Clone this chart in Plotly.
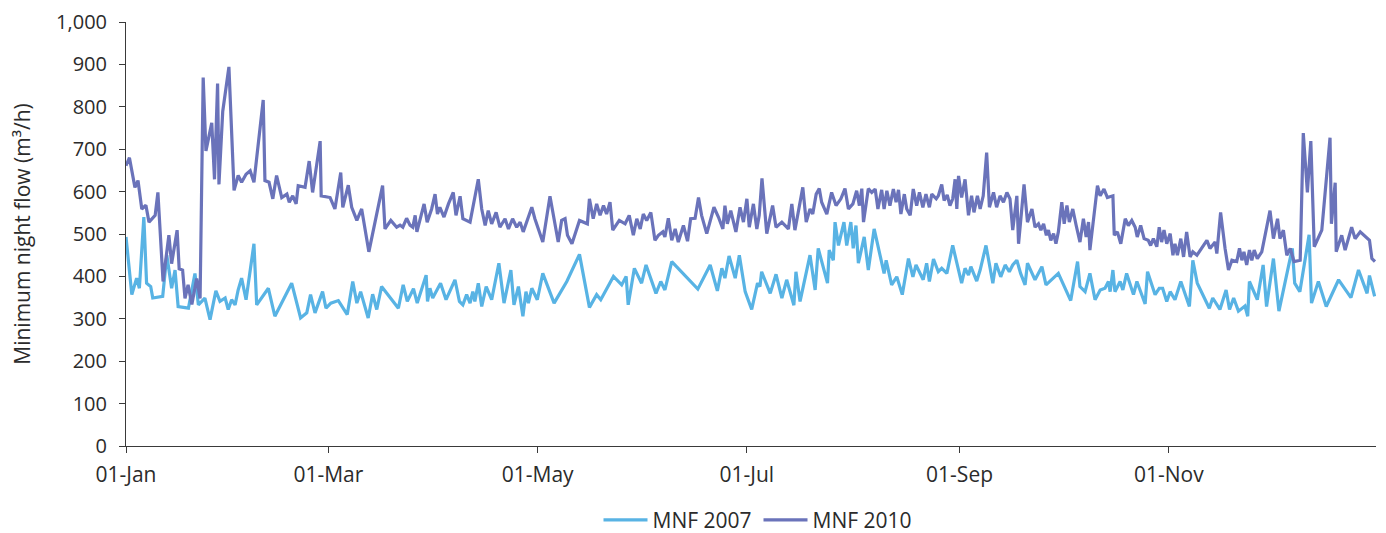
import pandas as pd
import plotly.graph_objects as go

# Day-of-year offsets (from 01-Jan) and minimum night flow values (m3/h)
days_2010 = [0.0, 1.0, 2.6, 3.5, 4.6, 5.8, 6.7, 8.5, 9.3, 10.8, 12.5, 13.3, 14.9, 15.5, 16.5, 17.2, 18.1, 19.2,
             20.6, 21.6, 22.5, 23.3, 25.0, 25.8, 26.7, 27.1, 28.2, 30.0, 31.5, 32.7, 33.7, 35.0, 36.2, 37.3,
             40.0, 40.5, 41.7, 42.8, 43.9, 45.4, 46.9, 47.6, 48.6, 49.6, 50.2, 52.2, 53.4, 54.4, 56.6, 56.9,
             59.5, 60.9, 62.6, 63.2, 64.8, 65.8, 67.3, 68.7, 70.8, 74.8, 75.5, 77.2, 78.9, 79.9, 80.7, 81.8,
             82.8, 83.6, 84.3, 84.8, 86.9, 87.8, 89.1, 90.1, 90.8, 91.5, 92.7, 94.0, 95.4, 96.2, 97.4, 98.2,
             100.3, 102.7, 103.7, 104.7, 105.6, 106.6, 107.9, 109.0, 110.5, 111.5, 112.7, 113.9, 114.9, 115.8,
             118.3, 119.2, 121.5, 123.6, 126.0, 127.0, 128.0, 128.7, 130.0, 132.2, 134.5, 135.1, 136.2, 137.2,
             138.2, 139.2, 140.1, 141.1, 141.9, 143.8, 145.5, 146.7, 147.9, 148.9, 149.9, 150.8, 151.8, 153.0,
             154.2, 155.2, 156.5, 157.1, 158.1, 159.1, 160.1, 161.0, 162.5, 163.7, 164.6, 165.9, 166.9, 167.8,
             169.3, 171.4, 172.7, 174.0, 174.6, 175.3, 176.3, 177.8, 179.0, 180.0, 181.0, 181.7, 182.9, 183.9,
             184.6, 185.4, 186.8, 188.5, 189.5, 191.2, 193.1, 194.1, 195.0, 196.0, 197.3, 198.3, 199.4, 200.2,
             201.2, 202.1, 202.8, 204.3, 205.7, 207.0, 208.4, 209.6, 210.6, 211.9, 213.0, 213.8, 214.5, 215.0,
             216.4, 217.4, 218.4, 219.2, 220.3, 221.0, 221.8, 222.7, 223.7, 224.5, 225.2, 225.9, 226.9, 227.6,
             228.6, 229.5, 230.5, 231.3, 232.3, 233.2, 234.2, 234.9, 236.2, 236.8, 237.8, 238.5, 239.4, 240.2,
             241.0, 241.7, 242.2, 242.7, 243.6, 244.6, 245.6, 246.5, 247.2, 248.2, 249.0, 249.9, 250.9, 251.7,
             252.9, 253.8, 254.8, 255.8, 256.8, 257.7, 258.5, 259.7, 260.2, 261.8, 262.8, 264.1, 265.0, 266.0,
             266.7, 267.5, 268.3, 268.9, 269.6, 270.4, 271.1, 271.8, 272.8, 273.5, 274.3, 275.0, 276.0, 277.0,
             278.1, 279.1, 279.9, 280.6, 281.0, 283.2, 284.0, 285.1, 286.1, 287.7, 288.1, 289.0, 290.0, 291.3,
             292.2, 293.2, 294.2, 294.8, 295.8, 296.8, 298.0, 298.7, 299.5, 300.5, 301.2, 301.9, 302.6, 303.4,
             304.4, 305.2, 305.8, 306.5, 307.5, 308.3, 309.2, 310.2, 311.0, 312.2, 313.6, 315.1, 316.0, 317.5,
             318.0, 319.1, 320.4, 321.4, 322.4, 323.8, 324.6, 325.3, 325.9, 326.7, 327.5, 328.2, 328.9, 329.8,
             331.1, 333.5, 334.5, 335.7, 336.4, 337.4, 338.4, 339.4, 340.5, 342.3, 343.2, 344.4, 345.4, 346.4,
             348.6, 351.0, 351.4, 352.5, 352.8, 354.4, 355.4, 357.3, 358.3, 359.8, 362.5, 363.2, 364.1]
mnf_2010 = [661, 680, 610, 626, 559, 568, 528, 544, 598, 388, 497, 430, 509, 418, 415, 348, 380, 334,
            395, 348, 869, 696, 762, 629, 855, 617, 789, 894, 603, 638, 622, 641, 649, 622,
            816, 626, 622, 583, 638, 586, 594, 575, 590, 571, 614, 610, 672, 598, 719, 590,
            586, 559, 645, 563, 615, 563, 532, 559, 458, 614, 512, 532, 516, 521, 516, 537,
            521, 516, 544, 505, 571, 528, 559, 594, 547, 563, 540, 571, 598, 544, 589, 536,
            528, 629, 559, 520, 555, 524, 551, 516, 536, 512, 536, 516, 528, 505,
            563, 536, 481, 589, 481, 532, 536, 497, 477, 532, 524, 583, 536, 571,
            544, 567, 547, 575, 509, 532, 524, 544, 497, 536, 512, 547, 532, 551,
            485, 497, 505, 493, 537, 485, 512, 481, 520, 483, 536, 537, 586, 544,
            501, 563, 540, 512, 567, 524, 555, 505, 563, 528, 583, 516, 571, 512,
            544, 631, 501, 567, 516, 528, 512, 571, 509, 555, 610, 528, 559, 547,
            594, 607, 575, 547, 598, 567, 583, 607, 559, 571, 602, 567, 607, 528,
            607, 598, 606, 559, 604, 559, 602, 567, 606, 575, 604, 547, 594, 559,
            544, 606, 567, 598, 563, 594, 563, 594, 583, 590, 617, 579, 592, 567,
            583, 629, 559, 637, 586, 629, 544, 590, 551, 590, 559, 590, 692, 563,
            598, 563, 590, 575, 598, 583, 509, 590, 477, 617, 528, 559, 516, 524,
            509, 524, 497, 509, 485, 501, 477, 505, 575, 524, 567, 528, 559, 520,
            481, 536, 493, 528, 462, 614, 590, 606, 586, 590, 497, 505, 477, 536,
            520, 532, 516, 493, 520, 489, 485, 473, 489, 470, 516, 481, 509, 477,
            501, 450, 477, 450, 489, 446, 505, 446, 458, 450, 466, 485, 466, 481,
            454, 551, 466, 415, 438, 435, 466, 438, 458, 427, 462, 438, 462, 442,
            458, 555, 489, 536, 489, 509, 450, 466, 435, 438, 738, 598, 719, 470,
            509, 727, 524, 621, 458, 497, 462, 516, 489, 505, 485, 442, 435]

days_2007 = [0.0, 1.7, 3.1, 3.9, 5.2, 6.0, 7.2, 7.8, 10.7, 11.9, 13.3, 14.3, 15.2, 18.2, 20.1, 21.1, 23.0,
             24.5, 26.2, 27.4, 28.9, 29.8, 30.8, 31.8, 32.7, 33.7, 35.0, 37.3, 38.1, 41.5, 43.4, 48.3, 50.9,
             52.7, 53.8, 55.1, 57.3, 58.3, 59.7, 61.9, 64.5, 66.1, 67.3, 68.4, 70.6, 71.9, 73.1, 74.5, 79.4,
             80.8, 82.0, 83.8, 84.9, 87.5, 87.9, 88.6, 89.4, 91.7, 93.3, 95.9, 97.2, 98.2, 99.3, 100.3, 101.1,
             101.7, 102.7, 103.7, 105.0, 106.6, 108.7, 110.2, 112.2, 113.1, 114.4, 115.7, 116.6, 117.3, 118.3,
             119.9, 121.5, 124.8, 128.5, 132.2, 135.1, 137.2, 138.4, 142.1, 144.5, 145.8, 146.4, 148.2, 150.3,
             151.6, 154.5, 155.9, 157.1, 159.1, 166.7, 170.3, 172.4, 173.7, 174.6, 175.8, 177.6, 178.8, 180.5,
             182.4, 184.1, 184.8, 185.3, 187.8, 189.5, 191.2, 192.6, 194.7, 195.3, 196.5, 199.4, 200.9, 201.8,
             204.5, 205.0, 206.2, 206.7, 207.7, 209.3, 210.1, 211.3, 212.0, 212.8, 213.5, 215.2, 216.4, 218.1,
             221.0, 221.6, 223.2, 224.7, 226.3, 228.1, 229.4, 230.3, 232.4, 233.4, 234.2, 235.4, 236.8, 237.8,
             239.3, 241.0, 243.6, 244.6, 245.6, 246.3, 248.0, 249.0, 250.7, 252.7, 253.6, 255.0, 256.3, 257.5,
             258.5, 259.7, 260.8, 262.1, 262.8, 265.0, 267.0, 268.2, 271.8, 275.4, 277.4, 278.1, 279.6, 281.0,
             282.5, 284.0, 285.4, 286.4, 286.9, 287.7, 288.3, 289.8, 290.6, 291.7, 293.7, 294.7, 297.1, 297.8,
             300.0, 301.2, 302.2, 303.4, 304.4, 305.8, 307.5, 310.0, 311.0, 312.3, 315.8, 316.8, 318.9, 320.7,
             321.7, 322.9, 324.3, 326.2, 327.0, 327.5, 329.8, 331.5, 332.5, 334.5, 336.1, 340.0, 340.7, 342.2,
             344.9, 345.6, 347.6, 349.9, 353.5, 357.1, 359.3, 361.8, 362.5, 364.0]
mnf_2007 = [493, 357, 396, 372, 540, 384, 376, 349, 353, 450, 372, 415, 329, 325, 407, 333, 349,
            298, 366, 341, 349, 322, 345, 333, 368, 396, 345, 477, 333, 372, 306, 384, 302,
            314, 357, 314, 364, 325, 337, 343, 310, 388, 337, 364, 302, 358, 322, 376, 325,
            380, 341, 371, 337, 403, 341, 372, 349, 384, 345, 392, 341, 333, 357, 337, 364,
            341, 384, 329, 376, 345, 431, 337, 415, 333, 376, 306, 364, 337, 372,
            345, 407, 337, 388, 452, 327, 357, 345, 400, 380, 400, 333, 419, 384,
            427, 360, 388, 368, 435, 370, 427, 366, 419, 396, 448, 396, 450, 364,
            322, 384, 376, 411, 360, 405, 349, 392, 332, 411, 341, 450, 368, 466,
            384, 462, 438, 528, 473, 528, 473, 528, 466, 520, 431, 493, 415, 512,
            407, 438, 380, 399, 357, 442, 399, 427, 392, 431, 388, 441, 411, 419,
            407, 473, 384, 419, 403, 423, 389, 415, 473, 384, 431, 399, 427, 411,
            427, 438, 407, 380, 431, 392, 423, 380, 407, 343, 435, 376, 364, 407,
            345, 368, 372, 388, 364, 415, 364, 388, 368, 407, 357, 388, 335, 411,
            357, 372, 372, 341, 364, 345, 388, 329, 438, 384, 325, 349, 322, 368,
            322, 349, 318, 330, 306, 388, 345, 427, 329, 442, 318, 466, 384, 364,
            498, 337, 388, 329, 392, 350, 415, 360, 402, 353]

start = pd.Timestamp("2010-01-01")
x2007 = [start + pd.Timedelta(days=d) for d in days_2007]
x2010 = [start + pd.Timedelta(days=d) for d in days_2010]

C2007 = "#58b3e4"
C2010 = "#6a73ba"
AX = "#3a3a3a"
FONT = "Open Sans"

fig = go.Figure()
fig.add_trace(go.Scatter(x=x2007, y=mnf_2007, mode="lines", name="MNF 2007",
                         line=dict(color=C2007, width=3.2)))
fig.add_trace(go.Scatter(x=x2010, y=mnf_2010, mode="lines", name="MNF 2010",
                         line=dict(color=C2010, width=3.2)))

# The page body has an 8px default margin; the figure is offset by it.
fig.update_layout(
    width=1370, height=525,
    margin=dict(l=118, r=2, t=14, b=87, autoexpand=False),
    paper_bgcolor="white", plot_bgcolor="white",
    font=dict(family=FONT, size=21, color="#2b2b2b"),
    showlegend=True,
    legend=dict(orientation="h", x=0.506, xanchor="center", y=-0.175, yanchor="middle",
                font=dict(size=21), traceorder="normal", itemwidth=44, entrywidth=101),
    xaxis=dict(
        type="date", automargin=False,
        range=[start, start + pd.Timedelta(days=364.4)],
        tick0="2010-01-01", dtick="M2", tickformat="%d-%b",
        showgrid=False, showline=True, linecolor=AX, linewidth=1,
        ticks="outside", ticklen=6, tickcolor=AX, zeroline=False,
        tickfont=dict(size=21), ticklabelstandoff=4, ticklabeloverflow="allow",
    ),
    yaxis=dict(
        range=[0, 1000], tick0=0, dtick=100, tickformat=",", automargin=False,
        showgrid=False, showline=True, linecolor=AX, linewidth=1,
        ticks="outside", ticklen=6, tickcolor=AX, zeroline=False,
        tickfont=dict(size=20), ticklabelstandoff=8, ticklabeloverflow="allow",
        title=dict(text="Minimum night flow (m³/h)", font=dict(size=21), standoff=21),
    ),
)

fig.write_html("out.html")
